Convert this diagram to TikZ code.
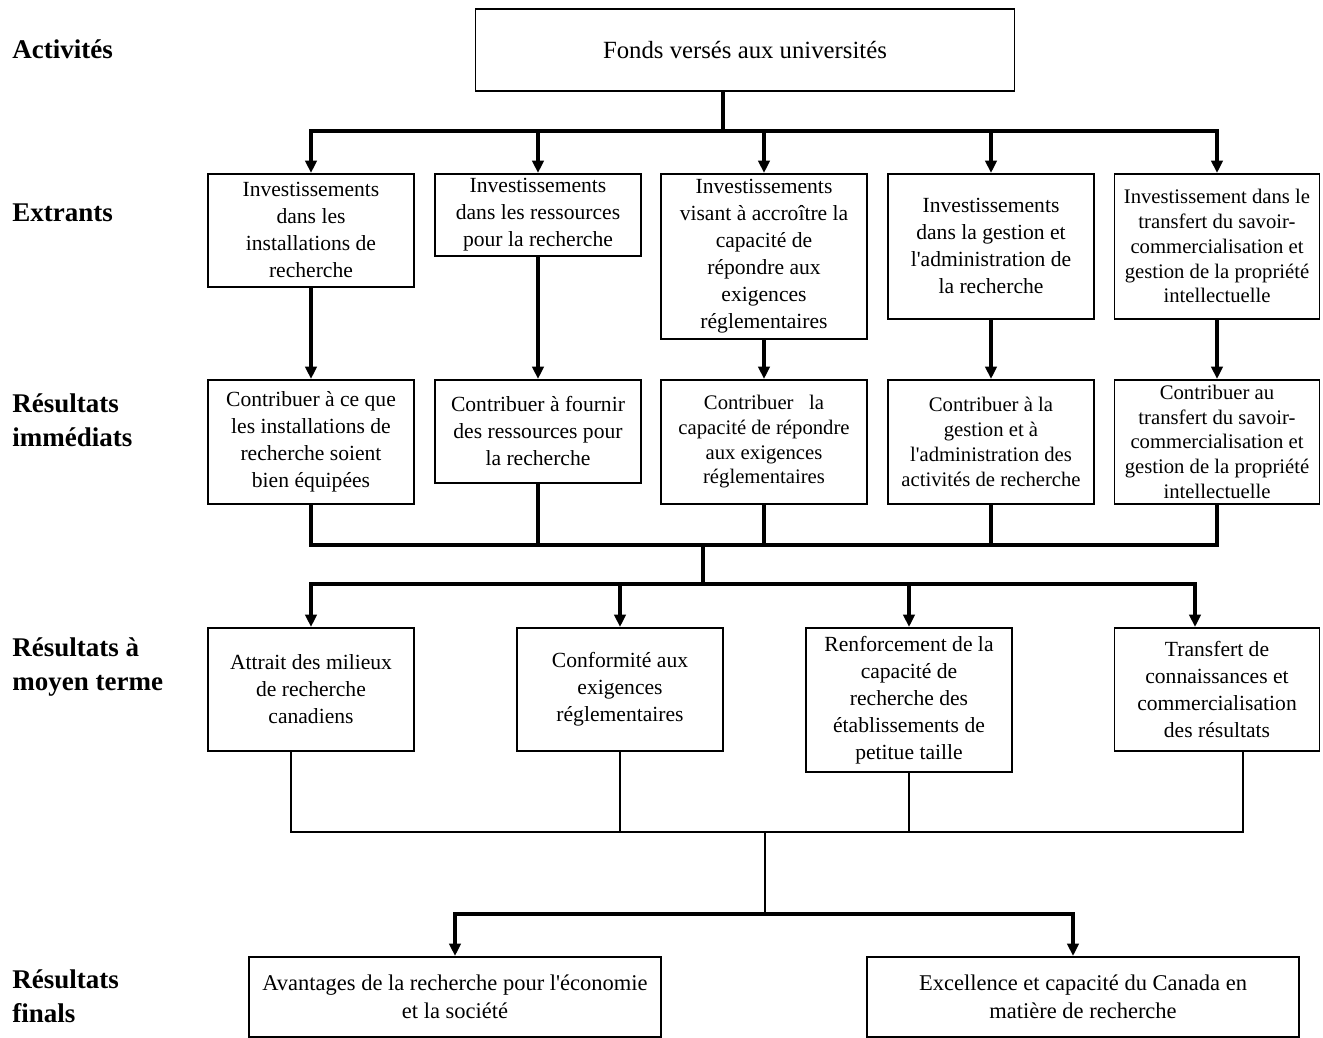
\documentclass[tikz,border=0pt]{standalone}
\usepackage{fontspec}
\setmainfont{Liberation Serif}
\usetikzlibrary{arrows.meta}

\newcommand\px{0.4445pt}

\tikzset{
  box/.style={draw, line width=0.7pt, align=center, inner sep=1pt, anchor=north,
    font=\fontsize{9.6}{12}\selectfont},
  small/.style={font=\fontsize{9.2}{11}\selectfont},
  sz/.style 2 args={minimum width=#1*\px, minimum height=#2*\px},
  lev/.style={anchor=west, align=left, inner sep=0pt, font=\fontsize{12}{15}\selectfont\bfseries},
  bar/.style={line width=1.5pt, line join=miter},
  arr/.style={line width=1.5pt, -{Triangle[width=5pt,length=5.5pt]}},
  fine/.style={line width=0.6pt},
  heavy/.style={line width=2.2pt},
}

\begin{document}
\begin{tikzpicture}[x=\px, y=-\px]
\useasboundingbox (0,0) rectangle (1323,1038);

\node[lev] (activ) at (12,49) {Activités};
\node[lev] (extr) at (12,213) {Extrants};
\node[lev] (resimm) at (12,420) {Résultats\\immédiats};
\node[lev] (resmoy) at (12,667) {Résultats à\\moyen terme};
\node[lev] (resfin) at (12,996) {Résultats\\finals};

\node[box, sz={539}{82}, font=\fontsize{11}{13}\selectfont] (fonds) at (745,8) {Fonds versés aux universités};

\node[box, sz={206}{113}] (e1) at (311,173) {Investissements\\dans les\\installations de\\recherche};
\node[box, sz={206}{82}] (e2) at (538,173) {Investissements\\dans les ressources\\pour la recherche};
\node[box, sz={206}{165}] (e3) at (764,173) {Investissements\\visant à accroître la\\capacité de\\répondre aux\\exigences\\réglementaires};
\node[box, sz={206}{145}] (e4) at (991,173) {Investissements\\dans la gestion et\\l\textquotesingle administration de\\la recherche};
\node[box, small, sz={205}{145}] (e5) at (1217,173) {Investissement dans le\\transfert du savoir-\\commercialisation et\\gestion de la propriété\\intellectuelle};

\node[box, sz={206}{124}] (r1) at (311,379) {Contribuer à ce que\\les installations de\\recherche soient\\bien équipées};
\node[box, sz={206}{103}] (r2) at (538,379) {Contribuer à fournir\\des ressources pour\\la recherche};
\node[box, small, sz={206}{124}] (r3) at (764,379) {Contribuer\ \ \ la\\capacité de répondre\\aux exigences\\réglementaires};
\node[box, small, sz={206}{124}] (r4) at (991,379) {Contribuer à la\\gestion et à\\l\textquotesingle administration des\\activités de recherche};
\node[box, small, sz={205}{124}] (r5) at (1217,379) {Contribuer au\\transfert du savoir-\\commercialisation et\\gestion de la propriété\\intellectuelle};

\node[box, sz={206}{123}] (m1) at (311,627) {Attrait des milieux\\de recherche\\canadiens};
\node[box, sz={206}{123}] (m2) at (620,627) {Conformité aux\\exigences\\réglementaires};
\node[box, sz={206}{144}] (m3) at (909,627) {Renforcement de la\\capacité de\\recherche des\\établissements de\\petitue taille};
\node[box, sz={205}{123}] (m4) at (1217,627) {Transfert de\\connaissances et\\commercialisation\\des résultats};

\node[box, sz={412}{80}, font=\fontsize{10}{12.5}\selectfont] (f1) at (455,956) {Avantages de la recherche pour l\textquotesingle économie\\et la société};
\node[box, sz={432}{80}, font=\fontsize{10}{12.5}\selectfont] (f2) at (1083,956) {Excellence et capacité du Canada en\\matière de recherche};

\coordinate (j1) at (723,131);
\coordinate (j2) at (703,545);
\coordinate (j3) at (703,584);
\coordinate (j4) at (765,832);
\coordinate (j5) at (765,914);
\coordinate (m4in) at (1195,627);
\coordinate (m1out) at (291,750);
\coordinate (m4out) at (1243,750);
\coordinate (f2in) at (1073,956);

\draw[bar] (fonds.south -| j1) -- (j1);
\draw[bar, line cap=rect] (e1.north |- j1) -- (e5.north |- j1);
\foreach \n in {e1,e2,e3,e4,e5}
  \draw[arr] (\n.north |- j1) -- (\n.north);
\foreach \i in {1,...,5}
  \draw[arr] (e\i) -- (r\i);

\draw[bar] (r1.south) -- (r1.south |- j2) -- (r5.south |- j2) -- (r5.south);
\foreach \n in {r2,r3,r4}
  \draw[bar] (\n.south) -- (\n.south |- j2);
\draw[bar] (j2) -- (j3);
\draw[bar, line cap=rect] (m1.north |- j3) -- (m4in |- j3);
\foreach \n in {m1.north,m2.north,m3.north,m4in}
  \draw[arr] (\n |- j3) -- (\n);

\draw[fine] (m1out) -- (m1out |- j4) -- (m4out |- j4) -- (m4out);
\draw[fine] (m2.south) -- (m2.south |- j4);
\draw[fine] (m3.south) -- (m3.south |- j4);
\draw[fine] (j4) -- (j5);
\draw[heavy, line cap=rect] (f1.north |- j5) -- (f2in |- j5);
\draw[arr] (f1.north |- j5) -- (f1.north);
\draw[arr, line width=2pt] (f2in |- j5) -- (f2in);
\end{tikzpicture}
\end{document}
